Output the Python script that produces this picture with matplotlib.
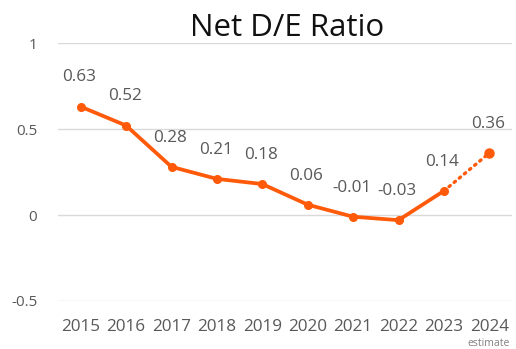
import matplotlib.pyplot as plt

years = ["2015", "2016", "2017", "2018", "2019", "2020", "2021", "2022", "2023", "2024"]
ratio = [0.63, 0.52, 0.28, 0.21, 0.18, 0.06, -0.01, -0.03, 0.14, 0.36]
y_ticks = [-0.5, 0, 0.5, 1]
y_tick_labels = ["-0.5", "0", "0.5", "1"]

orange = "#FF5A0A"
grey = "#595959"

plt.rcParams['font.family'] = ['Open Sans', 'DejaVu Sans']

fig = plt.figure(figsize=(5.16, 3.49), dpi=100)
ax = fig.add_axes([58 / 516, 1 - 301 / 349, (512 - 58) / 516, (301 - 43) / 349])

x = list(range(len(years)))
# actual values solid, last year (estimate) dotted
ax.plot(x[:9], ratio[:9], color=orange, lw=2.7, marker="o", ms=5.5, zorder=3)
ax.plot(x[8:], ratio[8:], color=orange, lw=2.4, ls=(0, (0.5, 1.5)), dash_capstyle="round", zorder=3)
ax.plot(x[9], ratio[9], "o", color=orange, ms=6.5, zorder=3)

for xi, v in zip(x, ratio):
    ax.annotate(f"{v:.2f}", (xi, v), xytext=(-1, 21), textcoords="offset points",
                ha="center", va="center", fontsize=12.3, color=grey)

ax.set_xlim(-0.5, len(years) - 0.5)
ax.set_ylim(-0.5, 1)
ax.set_yticks(y_ticks)
ax.set_yticklabels(y_tick_labels)
ax.set_xticks(x)
ax.set_xticklabels(years)
ax.grid(axis="y", color="#D9D9D9", lw=1)
ax.set_axisbelow(True)
for s in ax.spines.values():
    s.set_visible(False)
ax.tick_params(length=0, colors=grey)
ax.tick_params(axis="y", pad=15, labelsize=11)
ax.tick_params(axis="x", pad=13, labelsize=12.3)

fig.text(287 / 516, 1 - 28 / 349, "Net D/E Ratio", ha="center", va="center", fontsize=22.5, color="#111111")
fig.text(510 / 516, 1 - 343 / 349, "estimate", ha="right", va="center", fontsize=7.5, color="#808080")

fig.savefig("out.png", dpi=100)
